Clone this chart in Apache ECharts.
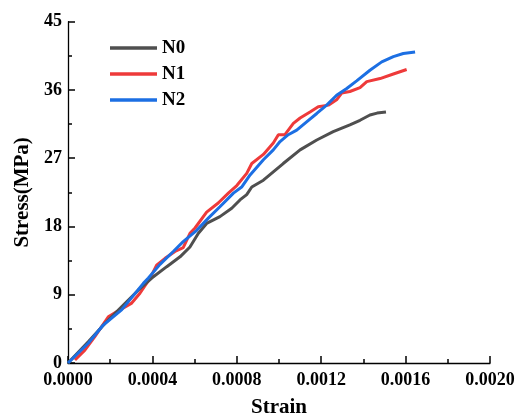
<!DOCTYPE html>
<html>
<head>
<meta charset="utf-8">
<script src="https://cdn.jsdelivr.net/npm/echarts@6/dist/echarts.min.js"></script>
<style>
  html, body { margin: 0; padding: 0; background: #fff; }
  #chart { width: 518px; height: 418px; }
</style>
</head>
<body>
<div id="chart"></div>
<script>
// Stress–strain curves for three specimens
const seriesNames = ['N0', 'N1', 'N2'];

const n0Strain = [0, 0.000096, 0.000175, 0.000254, 0.000333, 0.000397, 0.000468, 0.000531, 0.000578, 0.000618, 0.000657, 0.00072, 0.000776, 0.000815, 0.000847, 0.000871, 0.000926, 0.000973, 0.00102, 0.0011, 0.001179, 0.001257, 0.001336, 0.001384, 0.001431, 0.001465, 0.001507];
const n0Stress = [0, 2.8, 5.2, 7.4, 9.6, 11.2, 12.7, 14.0, 15.3, 17.1, 18.4, 19.3, 20.4, 21.5, 22.2, 23.2, 24.1, 25.2, 26.3, 28.1, 29.4, 30.5, 31.4, 32.0, 32.7, 32.95, 33.1];

const n1Strain = [0.000033, 0.00008, 0.000128, 0.000191, 0.000246, 0.000302, 0.000341, 0.000389, 0.00042, 0.00046, 0.000507, 0.000546, 0.000578, 0.000602, 0.000657, 0.000712, 0.00076, 0.0008, 0.000847, 0.000871, 0.000926, 0.000973, 0.000997, 0.001028, 0.001068, 0.0011, 0.001147, 0.001186, 0.001234, 0.001273, 0.001297, 0.001336, 0.001384, 0.001416, 0.001479, 0.001542, 0.001605];
const n1Stress = [0.4, 1.7, 3.5, 6.1, 7.0, 7.9, 9.2, 11.2, 12.9, 13.8, 14.7, 15.2, 17.1, 17.8, 19.9, 21.1, 22.4, 23.4, 25.0, 26.3, 27.5, 29.0, 30.1, 30.1, 31.6, 32.3, 33.1, 33.8, 34.0, 34.7, 35.6, 35.8, 36.3, 37.1, 37.5, 38.1, 38.7];

const n2Strain = [0, 0.000096, 0.000167, 0.000254, 0.000357, 0.000381, 0.000436, 0.000499, 0.000546, 0.00061, 0.000665, 0.00072, 0.000784, 0.000823, 0.000863, 0.000926, 0.000973, 0.001005, 0.001044, 0.001084, 0.001131, 0.001179, 0.001226, 0.001273, 0.001321, 0.001368, 0.001431, 0.001487, 0.001542, 0.001589, 0.001645];
const n2Stress = [0, 2.6, 5.0, 7.0, 10.5, 11.2, 13.0, 14.7, 16.0, 17.5, 19.1, 20.6, 22.4, 23.2, 24.8, 26.8, 28.1, 29.2, 30.1, 30.7, 31.8, 32.9, 34.0, 35.3, 36.2, 37.2, 38.6, 39.7, 40.4, 40.8, 41.0];

const xTicks = [0, 0.0004, 0.0008, 0.0012, 0.0016, 0.0020];
const yTicks = [0, 9, 18, 27, 36, 45];

const colors = ['#4f4f4f', '#ee3a3a', '#1c6fe3'];
const font = "'Liberation Serif', 'Times New Roman', serif";

function pairs(xs, ys) {
  return xs.map((x, i) => [x, ys[i]]);
}
const curves = [pairs(n0Strain, n0Stress), pairs(n1Strain, n1Stress), pairs(n2Strain, n2Stress)];

function makeAxis(extra) {
  return Object.assign({
    type: 'value',
    axisLine: { show: true, onZero: false, lineStyle: { color: '#000', width: 1.3 } },
    axisTick: { show: true, inside: true, length: 7, lineStyle: { color: '#000', width: 1.5 } },
    minorTick: { show: true, splitNumber: 2, length: 4, lineStyle: { color: '#000', width: 1.5 } },
    splitLine: { show: false },
    minorSplitLine: { show: false },
    nameTextStyle: { color: '#000', fontFamily: font, fontWeight: 'bold', fontSize: 21 }
  }, extra);
}

const labelStyle = { show: true, color: '#000', fontFamily: font, fontWeight: 'bold', fontSize: 18 };

const chart = echarts.init(document.getElementById('chart'), null, { renderer: 'canvas' });
chart.setOption({
  animation: false,
  backgroundColor: '#fff',
  grid: { left: 68, right: 28, top: 21.7, bottom: 55, containLabel: false, outerBoundsMode: 'none' },
  legend: {
    orient: 'vertical',
    left: 105,
    top: 30,
    icon: 'rect',
    itemWidth: 47,
    itemHeight: 3.5,
    itemGap: 0,
    data: seriesNames,
    textStyle: { color: '#000', fontFamily: font, fontWeight: 'bold', fontSize: 19, lineHeight: 26 }
  },
  xAxis: makeAxis({
    min: xTicks[0],
    max: xTicks[xTicks.length - 1],
    interval: xTicks[1] - xTicks[0],
    name: 'Strain',
    nameLocation: 'middle',
    nameGap: 34,
    axisLabel: Object.assign({}, labelStyle, { margin: 8, formatter: v => v.toFixed(4) })
  }),
  yAxis: makeAxis({
    min: yTicks[0],
    max: yTicks[yTicks.length - 1],
    interval: yTicks[1] - yTicks[0],
    name: 'Stress(MPa)',
    nameLocation: 'middle',
    nameGap: 33,
    axisLabel: Object.assign({}, labelStyle, { margin: 6 })
  }),
  series: seriesNames.map((name, i) => ({
    name: name,
    type: 'line',
    data: curves[i],
    showSymbol: false,
    symbol: 'none',
    smooth: false,
    lineStyle: { color: colors[i], width: 3 },
    itemStyle: { color: colors[i] },
    z: i === 0 ? 3 : (i === 1 ? 2 : 4)
  }))
});
</script>
</body>
</html>
